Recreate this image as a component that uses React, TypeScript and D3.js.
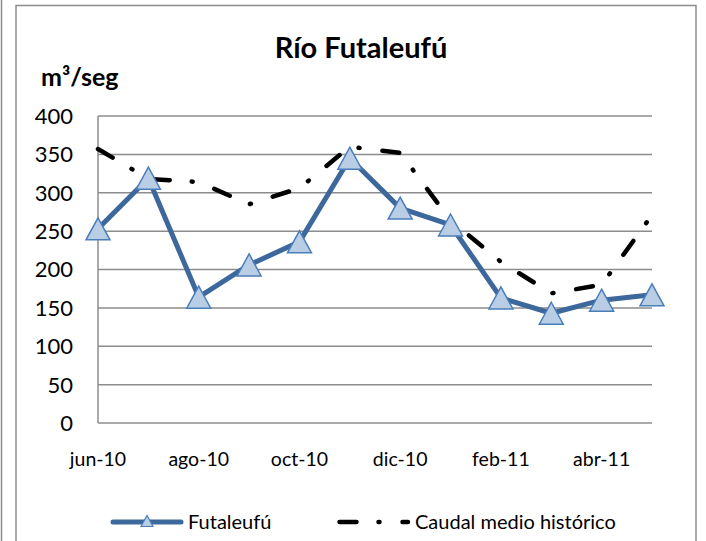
import React from "react";
import * as d3 from "d3";

const months = ["jun-10","jul-10","ago-10","sep-10","oct-10","nov-10","dic-10","ene-11","feb-11","mar-11","abr-11","may-11"];
const tickLabels = ["jun-10","ago-10","oct-10","dic-10","feb-11","abr-11"];
const futaleufu = [253, 319, 164, 206, 236, 345, 280, 258, 163, 143, 160, 167];
const caudalHistorico = [357, 318, 314, 285, 306, 360, 352, 264, 210, 169, 180, 271];
const yTicks = [0, 50, 100, 150, 200, 250, 300, 350, 400];

const W = 706, H = 541;
const FONT = "Lato, 'Open Sans', sans-serif";
const LINE_BLUE = "#3D689C";
const TRI_FILL = "#B9CDE5";
const TRI_STROKE = "#4A7EBB";
const GRID = "#8C8C8C";
const DASH = "17 22 1 23";

function tri(cx: number, cy: number, w: number, h: number) {
  return `M${cx},${cy - h / 2}L${cx + w / 2},${cy + h / 2}L${cx - w / 2},${cy + h / 2}Z`;
}

export default function App() {
  const x = d3.scalePoint<string>().domain(months).range([98, 652]);
  const y = d3.scaleLinear().domain([0, 400]).range([423, 116]);
  const line = d3.line<number>().x((_, i) => x(months[i]) as number).y(d => y(d));

  return (
    <svg width={W} height={H} style={{ position: "absolute", left: 0, top: 0, background: "#fff" }}>
      <rect x={0} y={0} width={W} height={H} fill="#fff" />
      <line x1={1.5} x2={1.5} y1={0} y2={H} stroke={GRID} strokeWidth={1.5} />
      <path d={`M16,${H}V5.5H696V${H}`} fill="none" stroke={GRID} strokeWidth={1.5} />

      <text x={361} y={58} textAnchor="middle" fontFamily={FONT} fontWeight={700} fontSize={29}>Río Futaleufú</text>
      <text x={41} y={86} fontFamily={FONT} fontWeight={700} fontSize={25}>m³/seg</text>

      {yTicks.map(t => (
        <g key={t}>
          {t > 0 && <line x1={98} x2={652} y1={y(t)} y2={y(t)} stroke={GRID} strokeWidth={1.5} />}
          <text x={73} y={y(t)} dy="0.36em" textAnchor="end" fontFamily={FONT} fontSize={22}>{t}</text>
        </g>
      ))}
      <line x1={98} x2={98} y1={116} y2={423} stroke={GRID} strokeWidth={1.5} />
      <line x1={98} x2={652} y1={423} y2={423} stroke={GRID} strokeWidth={1.5} />

      {tickLabels.map(m => (
        <text key={m} x={x(m)} y={466} textAnchor="middle" fontFamily={FONT} fontSize={19.5}>{m}</text>
      ))}

      <path d={line(caudalHistorico) || ""} fill="none" stroke="#000" strokeWidth={4.5} strokeDasharray={DASH} strokeLinecap="round" />
      <path d={line(futaleufu) || ""} fill="none" stroke={LINE_BLUE} strokeWidth={5} strokeLinejoin="round" />
      {futaleufu.map((v, i) => (
        <path key={i} d={tri(x(months[i]) as number, y(v), 24, 22)} fill={TRI_FILL} stroke={TRI_STROKE} strokeWidth={1.5} />
      ))}

      <line x1={113} x2={181} y1={522} y2={522} stroke={LINE_BLUE} strokeWidth={5} strokeLinecap="round" />
      <path d={tri(147, 521, 12, 11)} fill={TRI_FILL} stroke={TRI_STROKE} strokeWidth={1.2} />
      <text x={188} y={529} fontFamily={FONT} fontSize={20}>Futaleufú</text>

      <line x1={339.5} x2={408} y1={522} y2={522} stroke="#000" strokeWidth={4.5} strokeDasharray={DASH} strokeLinecap="round" />
      <text x={415} y={529} fontFamily={FONT} fontSize={20}>Caudal medio histórico</text>
    </svg>
  );
}
